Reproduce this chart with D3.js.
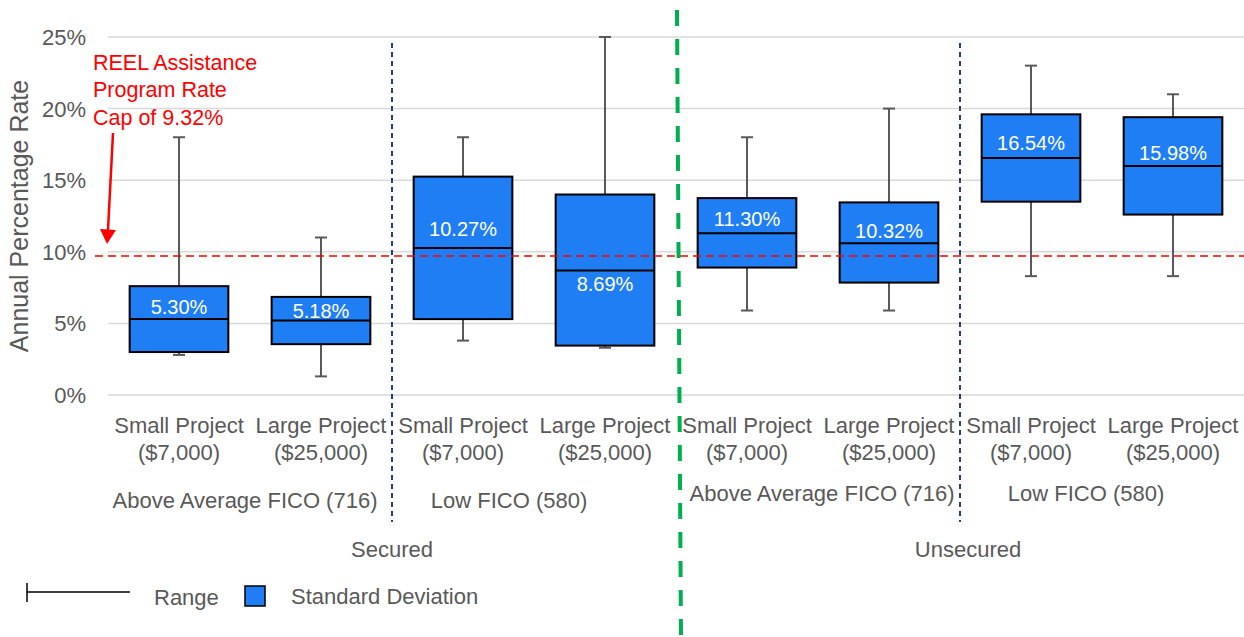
<!DOCTYPE html>
<html lang="en">
<head>
  <meta charset="UTF-8">
  <title>REEL Assistance APR box chart</title>
  <script src="https://d3js.org/d3.v7.min.js"></script>
  <style>
    body { margin: 0; background: #fff; }
    svg { display: block; font-family: "Liberation Sans", Arial, sans-serif; }
  </style>
</head>
<body>
  <svg width="1244" height="637"></svg>

  <script>
    // chart data (percent values)
    const projectNames = ["Small Project", "Large Project"];
    const projectAmounts = ["($7,000)", "($25,000)"];
    const ficoGroups = ["Above Average FICO (716)", "Low FICO (580)", "Above Average FICO (716)", "Low FICO (580)"];
    const securityGroups = ["Secured", "Unsecured"];

    const rangeMin = [2.8, 1.3, 3.8, 3.3, 5.9, 5.9, 8.3, 8.3];
    const rangeMax = [18.0, 11.0, 18.0, 25.0, 18.0, 20.0, 23.0, 21.0];
    const sdLow = [3.0, 3.55, 5.3, 3.45, 8.9, 7.85, 13.5, 12.6];
    const sdHigh = [7.6, 6.85, 15.25, 14.0, 13.75, 13.45, 19.6, 19.4];
    const medians = [5.3, 5.2, 10.27, 8.7, 11.3, 10.6, 16.55, 16.0];
    const medianLabels = ["5.30%", "5.18%", "10.27%", "8.69%", "11.30%", "10.32%", "16.54%", "15.98%"];
    const labelAt = [6.17, 5.87, 11.6, 7.8, 12.3, 11.45, 17.6, 16.9];

    const yTicks = [0, 5, 10, 15, 20, 25];
    const capRate = 9.32;
    const capLineAt = 9.7;
    const capNote = ["REEL Assistance", "Program Rate", "Cap of " + capRate + "%"];

    const svg = d3.select("svg");
    const gray = "#595959";

    // one band per box, 8 boxes
    const ids = d3.range(rangeMin.length);
    const x = d3.scaleBand().domain(ids).range([108, 1244]).paddingInner(0).paddingOuter(0);
    const y = d3.scaleLinear().domain([0, 25]).range([395, 37]);
    const bw = x.bandwidth();
    const boxW = bw * 0.695;

    // gridlines + tick labels
    svg.append("g")
      .selectAll("line")
      .data(yTicks)
      .join("line")
      .attr("x1", 108).attr("x2", 1244)
      .attr("y1", d => y(d)).attr("y2", d => y(d))
      .attr("stroke", "#d9d9d9").attr("stroke-width", 1.5);

    svg.append("g")
      .selectAll("text")
      .data(yTicks)
      .join("text")
      .attr("x", 86).attr("y", d => y(d))
      .attr("dy", "0.36em")
      .attr("text-anchor", "end")
      .attr("font-size", 22).attr("fill", gray)
      .text(d => d + "%");

    svg.append("text")
      .attr("transform", "translate(28," + y(12.5) + ") rotate(-90)")
      .attr("text-anchor", "middle")
      .attr("font-size", 25).attr("fill", gray)
      .text("Annual Percentage Rate");

    // navy dotted FICO separators
    [2, 6].forEach(i => {
      svg.append("line")
        .attr("x1", x(i)).attr("x2", x(i))
        .attr("y1", 43).attr("y2", 522)
        .attr("stroke", "#0e2d66").attr("stroke-width", 1.8)
        .attr("stroke-dasharray", "5,4");
    });

    // whiskers
    const boxes = svg.append("g").selectAll("g").data(ids).join("g")
      .attr("transform", i => "translate(" + (x(i) + bw / 2) + ",0)");

    boxes.append("line")
      .attr("y1", i => y(rangeMin[i])).attr("y2", i => y(rangeMax[i]))
      .attr("stroke", gray).attr("stroke-width", 2);
    boxes.append("line")
      .attr("x1", -6).attr("x2", 6)
      .attr("y1", i => y(rangeMax[i])).attr("y2", i => y(rangeMax[i]))
      .attr("stroke", gray).attr("stroke-width", 2);
    boxes.append("line")
      .attr("x1", -6).attr("x2", 6)
      .attr("y1", i => y(rangeMin[i])).attr("y2", i => y(rangeMin[i]))
      .attr("stroke", gray).attr("stroke-width", 2);

    // standard deviation boxes
    boxes.append("rect")
      .attr("x", -boxW / 2).attr("width", boxW)
      .attr("y", i => y(sdHigh[i]))
      .attr("height", i => y(sdLow[i]) - y(sdHigh[i]))
      .attr("fill", "#1f7ef3").attr("stroke", "#000").attr("stroke-width", 2);
    boxes.append("line")
      .attr("x1", -boxW / 2).attr("x2", boxW / 2)
      .attr("y1", i => y(medians[i])).attr("y2", i => y(medians[i]))
      .attr("stroke", "#000").attr("stroke-width", 2);
    boxes.append("text")
      .attr("y", i => y(labelAt[i]))
      .attr("dy", "0.36em")
      .attr("text-anchor", "middle")
      .attr("font-size", 20).attr("fill", "#fff")
      .text(i => medianLabels[i]);

    // rate cap line
    svg.append("line")
      .attr("x1", 95).attr("x2", 1244)
      .attr("y1", y(capLineAt)).attr("y2", y(capLineAt))
      .attr("stroke", "#ff0000").attr("stroke-width", 1.5)
      .attr("stroke-dasharray", "8,5");

    // secured / unsecured divider
    svg.append("line")
      .attr("x1", x(4) + 1).attr("x2", x(4) + 5)
      .attr("y1", 10).attr("y2", 637)
      .attr("stroke", "#00b050").attr("stroke-width", 4)
      .attr("stroke-dasharray", "16,13");

    // annotation
    svg.append("text")
      .attr("x", 93).attr("y", 62)
      .attr("font-size", 21.5).attr("fill", "#ff0000")
      .selectAll("tspan")
      .data(capNote)
      .join("tspan")
      .attr("x", 93)
      .attr("dy", (d, i) => i === 0 ? "0.36em" : 27.5)
      .text(d => d);

    svg.append("line")
      .attr("x1", 113).attr("y1", 133)
      .attr("x2", 108).attr("y2", 230)
      .attr("stroke", "#ff0000").attr("stroke-width", 2.5);
    svg.append("path")
      .attr("d", "M100,229 L116,230 L107,244 Z")
      .attr("fill", "#ff0000");

    // category labels
    const catLabels = svg.append("g").selectAll("text").data(ids).join("text")
      .attr("text-anchor", "middle")
      .attr("font-size", 22).attr("fill", gray);
    catLabels.append("tspan")
      .attr("x", i => x(i) + bw / 2).attr("y", 425).attr("dy", "0.36em")
      .text(i => projectNames[i % 2]);
    catLabels.append("tspan")
      .attr("x", i => x(i) + bw / 2).attr("y", 452).attr("dy", "0.36em")
      .text(i => projectAmounts[i % 2]);

    // group labels sit a little off-centre, as in the original
    const ficoY = [500, 500, 493, 493];
    const ficoShift = [-5, -25, 4, -16];
    svg.append("g").selectAll("text").data(ficoGroups).join("text")
      .attr("x", (d, g) => x(g * 2 + 1) + ficoShift[g])
      .attr("y", (d, g) => ficoY[g]).attr("dy", "0.36em")
      .attr("text-anchor", "middle")
      .attr("font-size", 22).attr("fill", gray)
      .text(d => d);

    const securityShift = [0, 8];
    svg.append("g").selectAll("text").data(securityGroups).join("text")
      .attr("x", (d, g) => x(g * 4 + 2) + securityShift[g])
      .attr("y", 549).attr("dy", "0.36em")
      .attr("text-anchor", "middle")
      .attr("font-size", 22).attr("fill", gray)
      .text(d => d);

    // legend
    const legend = svg.append("g");
    legend.append("line")
      .attr("x1", 27).attr("x2", 130).attr("y1", 592).attr("y2", 592)
      .attr("stroke", "#000").attr("stroke-width", 1.5);
    legend.append("line")
      .attr("x1", 27).attr("x2", 27).attr("y1", 583).attr("y2", 602)
      .attr("stroke", "#000").attr("stroke-width", 1.5);
    legend.append("text")
      .attr("x", 154).attr("y", 597).attr("dy", "0.36em")
      .attr("font-size", 22).attr("fill", gray)
      .text("Range");
    legend.append("rect")
      .attr("x", 245).attr("y", 586).attr("width", 20).attr("height", 20)
      .attr("fill", "#1f7ef3").attr("stroke", "#000").attr("stroke-width", 1.5);
    legend.append("text")
      .attr("x", 291).attr("y", 596).attr("dy", "0.36em")
      .attr("font-size", 22).attr("fill", gray)
      .text("Standard Deviation");
  </script>
</body>
</html>
